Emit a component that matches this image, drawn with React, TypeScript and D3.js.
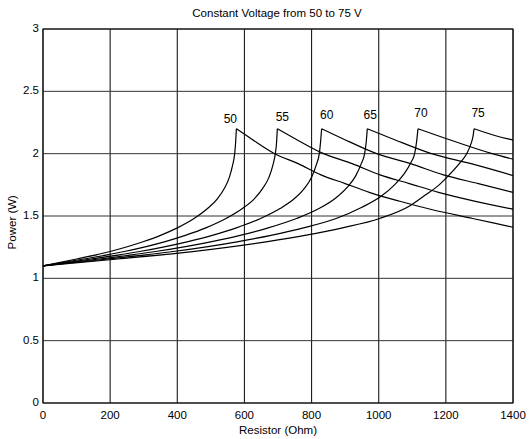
import React from "react";
import * as d3 from "d3";

// ---- data ----
const xTicks = [0, 200, 400, 600, 800, 1000, 1200, 1400];
const yTicks = [0, 0.5, 1, 1.5, 2, 2.5, 3];
const yTickLabels = ["0", "0.5", "1", "1.5", "2", "2.5", "3"];
const voltages = ["50", "55", "60", "65", "70", "75"];

// [resistor (Ohm), power (W)]
const curve50: [number, number][] = [
  [0, 1.1], [100, 1.155], [200, 1.215], [300, 1.295], [350, 1.345], [400, 1.405], [450, 1.48],
  [490, 1.56], [520, 1.64], [540, 1.72], [555, 1.81], [565, 1.91], [571, 2.0], [574, 2.1], [576, 2.2],
  [620, 2.12], [690, 2.0], [760, 1.92], [828, 1.83], [900, 1.76], [972, 1.69],
  [1060, 1.62], [1160, 1.55], [1280, 1.48], [1400, 1.41],
];
const curve55: [number, number][] = [
  [0, 1.1], [121, 1.155], [242, 1.215], [364, 1.295], [424, 1.345], [485, 1.405], [545, 1.48],
  [594, 1.56], [630, 1.64], [654, 1.72], [673, 1.81], [685, 1.91], [692, 2.0], [696, 2.1], [698, 2.2],
  [751, 2.12], [836, 2.0], [921, 1.92], [1004, 1.83], [1091, 1.76], [1178, 1.69],
  [1285, 1.62], [1400, 1.555],
];
const curve60: [number, number][] = [
  [0, 1.1], [144, 1.155], [288, 1.215], [432, 1.295], [504, 1.345], [576, 1.405], [648, 1.48],
  [706, 1.56], [749, 1.64], [778, 1.72], [800, 1.81], [814, 1.91], [823, 2.0], [827, 2.1], [830, 2.2],
  [893, 2.12], [994, 2.0], [1095, 1.92], [1193, 1.83], [1297, 1.76], [1400, 1.69],
];
const curve65: [number, number][] = [
  [0, 1.1], [168, 1.155], [335, 1.215], [503, 1.295], [587, 1.345], [671, 1.405], [755, 1.48],
  [822, 1.56], [872, 1.645], [906, 1.73], [931, 1.82], [948, 1.92], [958, 2.0], [963, 2.1], [966, 2.2],
  [1040, 2.12], [1157, 2.0], [1275, 1.92], [1400, 1.825],
];
const curve70: [number, number][] = [
  [0, 1.1], [194, 1.155], [388, 1.215], [582, 1.295], [679, 1.345], [776, 1.405], [873, 1.48],
  [950, 1.57], [1008, 1.66], [1047, 1.75], [1076, 1.84], [1096, 1.93], [1107, 2.0], [1113, 2.1], [1117, 2.2],
  [1202, 2.12], [1338, 2.0], [1400, 1.955],
];
const curve75: [number, number][] = [
  [0, 1.1], [223, 1.155], [446, 1.215], [669, 1.295], [780, 1.345], [892, 1.405], [1003, 1.48],
  [1092, 1.58], [1140, 1.67], [1180, 1.75], [1210, 1.83], [1240, 1.92], [1262, 2.0], [1275, 2.08],
  [1281, 2.14], [1284, 2.2],
  [1382, 2.12], [1400, 2.11],
];
const curves = [curve50, curve55, curve60, curve65, curve70, curve75];

// ---- layout ----
const W = 530;
const H = 439;
const left = 43;
const right = 513;
const top = 29;
const bottom = 403;
const labelDx = [-6, 5, 5, 3, 3, 4];
const labelDy = [-9, -11, -13, -13, -15, -15];
const font = "'Liberation Sans', Arial, Helvetica, sans-serif";

export default function App() {
  const x = d3.scaleLinear().domain([0, 1400]).range([left, right]);
  const y = d3.scaleLinear().domain([0, 3]).range([bottom, top]);
  const line = d3
    .line<[number, number]>()
    .x((d) => x(d[0]))
    .y((d) => y(d[1]))
    .curve(d3.curveMonotoneX);

  return (
    <svg
      width={W}
      height={H}
      style={{ position: "absolute", left: 0, top: 0, background: "#fff" }}
      fontFamily={font}
    >
      <rect x={0} y={0} width={W} height={H} fill="#fff" />
      {/* grid */}
      {xTicks.map((t) => (
        <line key={"gx" + t} x1={x(t)} x2={x(t)} y1={top} y2={bottom} stroke="#1a1a1a" strokeWidth={1.1} />
      ))}
      {yTicks.map((t) => (
        <line key={"gy" + t} x1={left} x2={right} y1={y(t)} y2={y(t)} stroke="#333" strokeWidth={1} />
      ))}
      <rect x={left} y={top} width={right - left} height={bottom - top} fill="none" stroke="#111" strokeWidth={1.1} />
      {/* curves: rising and falling branches drawn separately so the peak stays sharp */}
      {curves.map((c, i) => {
        const pk = d3.maxIndex(c, (d) => d[1]);
        return (
          <g key={"c" + i}>
            <path d={line(c.slice(0, pk + 1)) || ""} fill="none" stroke="#000" strokeWidth={1.2} />
            <path d={line(c.slice(pk)) || ""} fill="none" stroke="#000" strokeWidth={1.2} />
          </g>
        );
      })}
      {curves.map((c, i) => {
        const peak = c[d3.maxIndex(c, (d) => d[1])];
        return (
          <text
            key={"l" + i}
            x={x(peak[0]) + labelDx[i]}
            y={y(peak[1]) + labelDy[i]}
            fontSize={12}
            textAnchor="middle"
            dominantBaseline="middle"
            fill="#000"
          >
            {voltages[i]}
          </text>
        );
      })}
      {/* tick labels */}
      {xTicks.map((t) => (
        <text key={"tx" + t} x={x(t)} y={419} fontSize={11.5} textAnchor="middle" fill="#000">
          {t}
        </text>
      ))}
      {yTicks.map((t, i) => (
        <text key={"ty" + t} x={39} y={y(t)} fontSize={11.5} textAnchor="end" dominantBaseline="middle" fill="#000">
          {yTickLabels[i]}
        </text>
      ))}
      {/* titles */}
      <text x={277} y={17} fontSize={11.5} textAnchor="middle" fill="#000">
        Constant Voltage from 50 to 75 V
      </text>
      <text x={278} y={434} fontSize={11.5} textAnchor="middle" fill="#000">
        Resistor (Ohm)
      </text>
      <text
        transform={`translate(16, ${y(1.45)}) rotate(-90)`}
        fontSize={11.5}
        textAnchor="middle"
        fill="#000"
      >
        Power (W)
      </text>
    </svg>
  );
}
